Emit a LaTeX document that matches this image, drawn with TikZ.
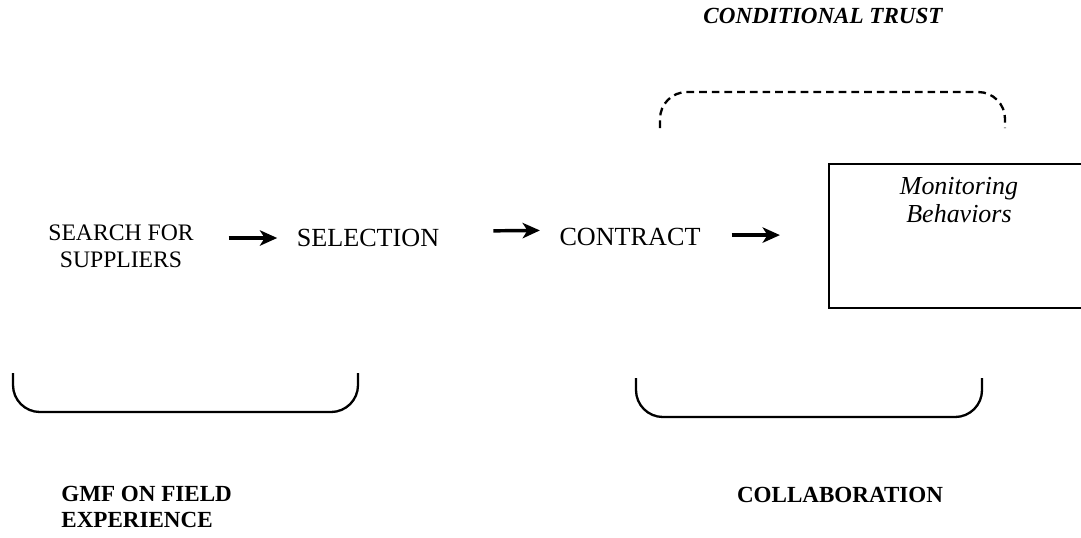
\documentclass[tikz,border=0pt]{standalone}
\usepackage{fontspec}
\setmainfont{Liberation Serif}
\usetikzlibrary{arrows.meta}
\begin{document}
\begin{tikzpicture}[x=0.52pt,y=-0.52pt,
    stage/.style={font=\fontsize{13.6}{15.5}\selectfont, inner sep=0pt},
    caption/.style={font=\fontsize{12}{13.5}\selectfont\bfseries, inner sep=0pt},
    flow/.style={-{Stealth[length=9pt,width=8pt,inset=2.5pt]}, line width=1.8pt},
    brace/.style={line width=1.2pt, rounded corners=14pt}]
  \useasboundingbox (0,0) rectangle (1081,537);
  \clip (0,0) rectangle (1081,537);
  \draw
    (121,246) node[stage, font=\fontsize{12.3}{14}\selectfont, align=center] (search){SEARCH FOR\\SUPPLIERS}
    (368,238) node[stage] (selection){SELECTION}
    (630,237) node[stage] (contract){CONTRACT}
    (828,163) node[draw, line width=1.1pt, anchor=north west, minimum width=262*0.52pt, minimum height=144*0.52pt] (monitor){}
    (959,200) node[stage, font=\fontsize{13.5}{15}\selectfont\itshape, align=center] (behaviors){Monitoring\\Behaviors}
    (823,16) node[caption, font=\fontsize{12}{14}\selectfont\bfseries\itshape] (trust){CONDITIONAL TRUST}
    (61,507) node[caption, anchor=west, align=left] (gmf){GMF ON FIELD\\EXPERIENCE}
    (840,495) node[caption] (collab){COLLABORATION};
  \begin{scope}[flow]
    \draw[shorten <=18pt, shorten >=10pt] (search.east |- selection) to (selection.west);
    \draw[shorten <=28pt, shorten >=10pt] ([yshift=3.5pt]selection.east) to ([yshift=3.5pt]contract.west);
    \draw[shorten <=16pt, shorten >=25pt] ([yshift=1pt]contract.east) to ([yshift=1pt]contract.east -| monitor.west);
  \end{scope}
  % brackets
  \draw[brace, dash pattern=on 4pt off 2.6pt] (660,128) -- (660,92) -- (1005,92) -- (1005,128);
  \draw[brace] (13,373) -- (13,412) -- (358,412) -- (358,373);
  \draw[brace] (636,378) -- (636,417) -- (982,417) -- (982,378);
\end{tikzpicture}
\end{document}
